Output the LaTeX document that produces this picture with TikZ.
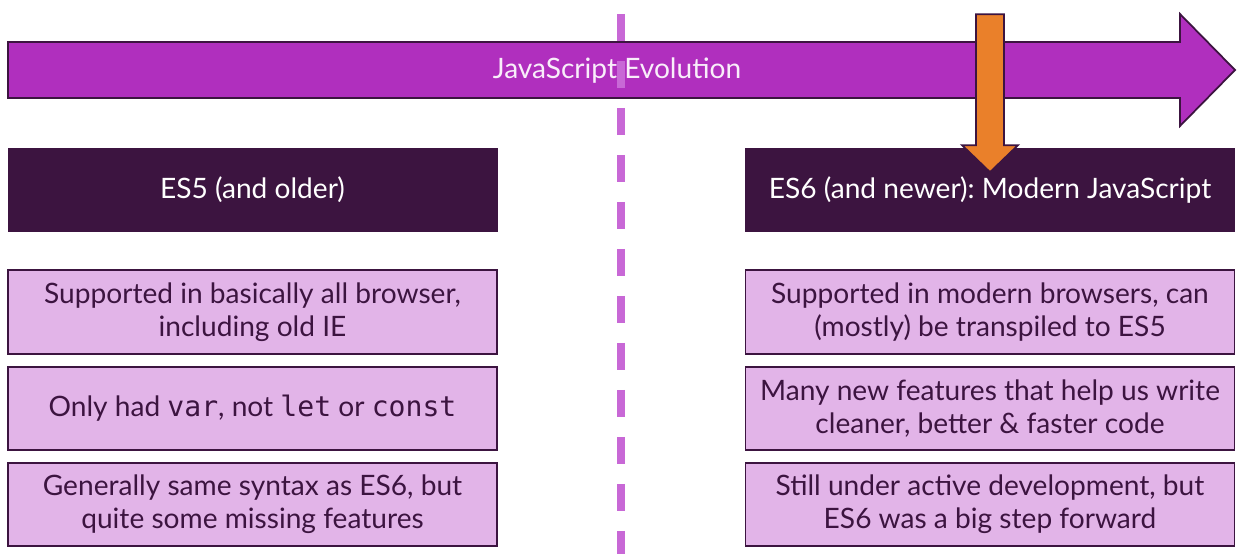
\documentclass[tikz,border=0pt]{standalone}
\usepackage{fontspec}
\setmainfont{Lato}
\setmonofont{DejaVu Sans Mono}
\usepackage{tikz}
\definecolor{ColA}{RGB}{176,47,190}
\definecolor{ColB}{RGB}{60,20,64}
\definecolor{ColC}{RGB}{226,180,232}
\definecolor{ColD}{RGB}{234,128,42}
\definecolor{ColE}{RGB}{200,104,214}
\tikzstyle{HeadBox}=[rectangle,draw=ColB,fill=ColB,text=white,minimum width=9.78cm,
minimum height=1.66cm,inner sep=0pt,font=\fontsize{16}{18}\selectfont\frenchspacing]
\tikzstyle{InfoBox}=[rectangle,draw=ColB,fill=ColC,text=ColB,line width=1pt,minimum width=9.78cm,
minimum height=1.67cm,inner sep=0pt,align=center,font=\fontsize{16}{18.6}\selectfont\frenchspacing]
\tikzstyle{BigArrow}=[draw=ColB,fill=ColA,line width=1pt,line join=miter]
\tikzstyle{OrangeArrow}=[draw=ColB,fill=ColD,line width=1pt,line join=miter]
\tikzstyle{DashLine}=[ColE,line width=4pt,dash pattern=on .54cm off .4cm]

\begin{document}
\begin{tikzpicture}[x=.02cm,y=-.02cm]
        \useasboundingbox (0,0) rectangle (1246,554);
        \draw[BigArrow](8,42)--(1180,42)--(1180,14)--(1235,70)--(1180,126)--(1180,98)--(8,98)--cycle;
        \draw[DashLine](621,14)--(621,554);
        \node[text=white!92!ColA,font=\fontsize{16}{18}\selectfont](title)at(617,71){JavaScript Evolution};
        \node[HeadBox](es5)at(252.5,190){ES5 (and older)};
        \node[HeadBox](es6)at(990,190){ES6 (and newer): Modern JavaScript};
        \path(es6.north)++(0,24)coordinate(tip);
        \draw[OrangeArrow](tip)--++(-28,-27)--++(14,0)--++(0,-131)--++(28,0)--++(0,131)--++(14,0)--cycle;
        \node[InfoBox](l1)at(252.5,312){Supported in basically all browser,\\including old IE};
        \node[InfoBox](l2)at(252.5,408.5){Only had \texttt{var}, not \texttt{let} or \texttt{const}};
        \node[InfoBox](l3)at(252.5,504.5){Generally same syntax as ES6, but\\quite some missing features};
        \node[InfoBox](r1)at(990,312){Supported in modern browsers, can\\(mostly) be transpiled to ES5};
        \node[InfoBox](r2)at(990,408.5){Many new features that help us write\\cleaner, better \& faster code};
        \node[InfoBox](r3)at(990,504.5){Still under active development, but\\ES6 was a big step forward};
    \end{tikzpicture}
\end{document}
